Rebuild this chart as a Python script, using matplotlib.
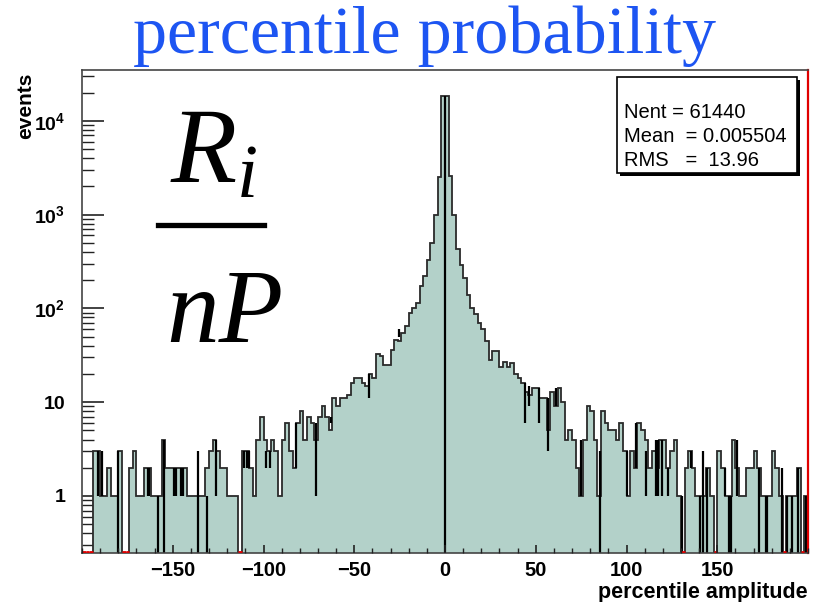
import numpy as np
import matplotlib.pyplot as plt
from matplotlib.ticker import FixedLocator, FixedFormatter, MultipleLocator, LogLocator, NullFormatter
from matplotlib.patches import Rectangle
from matplotlib.lines import Line2D

plt.rcParams['mathtext.fontset'] = 'custom'
plt.rcParams['mathtext.bf'] = 'Liberation Sans:bold'
plt.rcParams['mathtext.rm'] = 'Liberation Sans:bold'
plt.rcParams['mathtext.it'] = 'Liberation Serif:italic'

# histogram bins (2 units wide, -200 .. 200)
bin_lo, bin_hi, bin_w = -200, 200, 2
counts = [
    0, 0, 0, 3, 3, 1, 1, 2, 1, 1,
    3, 0, 0, 2, 3, 1, 1, 2, 2, 1,
    1, 1, 4, 2, 2, 2, 2, 2, 2, 1,
    1, 1, 1, 1, 2, 3, 4, 3, 2, 2,
    1, 1, 1, 0, 3, 3, 2, 1, 4, 7,
    4, 3, 4, 3, 1, 4, 6, 3, 2, 6,
    8, 4, 7, 6, 4, 7, 9, 7, 5, 11,
    9, 11, 11, 12, 16, 18, 18, 16, 15, 20,
    18, 33, 31, 25, 25, 36, 46, 45, 55, 65,
    90, 100, 115, 175, 220, 330, 494, 1000, 2500, 18400,
    18400, 2600, 1000, 430, 290, 210, 140, 100, 88, 70,
    60, 45, 28, 35, 35, 24, 27, 24, 26, 20,
    18, 16, 13, 12, 14, 14, 11, 11, 5, 13,
    9, 14, 10, 4, 5, 4, 2, 1, 4, 9,
    8, 4, 1, 8, 6, 5, 5, 4, 6, 3,
    1, 3, 2, 6, 5, 4, 2, 3, 2, 4,
    4, 2, 3, 4, 1, 0, 2, 3, 2, 1,
    1, 1, 2, 1, 0, 3, 2, 1, 1, 4,
    2, 1, 1, 2, 2, 3, 2, 1, 1, 1,
    3, 2, 1, 0, 1, 1, 1, 2, 0, 1,
]

# thin dips (empty sub-bins) seen as dark vertical lines; lo = 0 means down to the axis
dip_x = [-191.2, -188.8, -180.4, -163.8, -162.9, -158.3, -154.6, -149.4, -148.2,
         -145.5, -144.6, -136.3, -131.2, -126.3, -111.0, -109.1, -108.2, -98.4,
         -96.2, -81.9, -71.2, -62.8, -42.1, -25.6, 0.0, 44.1, 46.3, 51.8, 56.9,
         61.2, 74.7, 85.4, 100.0, 105.2, 110.6, 116.1, 117.4, 119.4, 123.0,
         130.7, 135.3, 140.3, 142.3, 144.5, 154.3, 156.5, 157.4, 161.1, 173.0,
         176.7, 177.6, 185.5, 188.6, 191.4, 194.7, 198.7]
dip_lo = [1, 1, 0, 1, 1, 0, 0, 1, 1,
          1, 1, 0, 0, 1, 2, 2, 2, 2,
          2, 2, 1, 6, 11, 50, 0, 6, 9, 6, 3,
          9, 1, 0, 1, 2, 1, 1, 1, 1, 1,
          0, 2, 0, 0, 0, 1, 0, 0, 1, 0,
          0, 0, 0, 0, 0, 0, 0]
dip_hi = [3, 3, 3, 2, 2, 1, 4, 2, 2,
          2, 2, 3, 1, 4, 3, 3, 3, 3,
          3, 6, 6, 7, 20, 60, 18400, 16, 15, 14, 11,
          14, 4, 3, 3, 6, 3, 4, 4, 4, 2,
          1, 3, 1, 3, 2, 2, 1, 1, 4, 2,
          1, 1, 2, 1, 1, 2, 1]

x_ticks = [-150, -100, -50, 0, 50, 100, 150]
y_ticks = [1, 10, 100, 1000, 10000]
y_labels = ['1', '10', r'$\mathbf{10^{2}}$', r'$\mathbf{10^{3}}$', r'$\mathbf{10^{4}}$']
stat_lines = ['Nent = 61440', 'Mean  = 0.005504', 'RMS   =  13.96']

fill_c = '#b3d1c9'
edge_c = '#2a2a2a'
W, H = 819, 602

fig = plt.figure(figsize=(W / 100, H / 100), dpi=100)
ax = fig.add_axes([82 / W, 1 - 553 / H, 726 / W, 483 / H])
ax.set_yscale('log')
ymin, ymax = 0.2467, 34800
ax.set_xlim(bin_lo, bin_hi)
ax.set_ylim(ymin, ymax)

edges = np.arange(bin_lo, bin_hi + bin_w, bin_w)
vals = np.array(counts, dtype=float)
floor = ymin * 0.5
draw = np.where(vals > 0, vals, floor)
ax.stairs(draw, edges, baseline=floor, fill=True, color=fill_c, lw=0, zorder=1)
ax.stairs(draw, edges, baseline=None, color=edge_c, lw=1.3, zorder=2)

lo = np.where(np.array(dip_lo) > 0, dip_lo, floor)
ax.vlines(dip_x, lo, dip_hi, colors='black', lw=1.6, zorder=2.2)

# red marks under empty bins
empty = vals == 0
ax.hlines(np.full(empty.sum(), ymin * 1.015), edges[:-1][empty], edges[1:][empty],
          colors='#e00000', lw=2, zorder=3)

# axes styling
for side in ['left', 'bottom', 'top']:
    ax.spines[side].set_color('#444444')
    ax.spines[side].set_linewidth(1.2)
ax.spines['right'].set_color('#e00000')
ax.spines['right'].set_linewidth(1.6)

ax.xaxis.set_major_locator(FixedLocator(x_ticks))
ax.xaxis.set_minor_locator(MultipleLocator(10))
ax.yaxis.set_major_locator(FixedLocator(y_ticks))
ax.yaxis.set_major_formatter(FixedFormatter(y_labels))
ax.yaxis.set_minor_locator(LogLocator(base=10, subs=np.arange(2, 10), numticks=20))
ax.yaxis.set_minor_formatter(NullFormatter())

ax.tick_params(axis='x', which='major', direction='in', length=6, width=1.2,
               color='#222222', pad=6, labelsize=14.5)
ax.tick_params(axis='x', which='minor', direction='in', length=3.6, width=1.0, color='#222222')
ax.tick_params(axis='y', which='major', direction='in', length=16, width=1.2,
               color='#222222', pad=12, labelsize=14)
ax.tick_params(axis='y', which='minor', direction='in', length=8.5, width=1.0, color='#222222')
for lab in ax.get_xticklabels() + ax.get_yticklabels():
    lab.set_fontfamily('Liberation Sans')
    lab.set_fontweight('bold')
ax.xaxis.set_zorder(3)
ax.yaxis.set_zorder(0.5)

# axis titles
fig.text(808 / W, 1 - 598 / H, 'percentile amplitude', ha='right', va='baseline',
         family='Liberation Sans', weight='bold', size=15.5)
fig.text(26 / W, 1 - 73 / H, 'events', ha='center', va='top', rotation=90,
         family='Liberation Sans', weight='bold', size=15)

# title
fig.text(133 / W, 1 - 53 / H, 'percentile probability', ha='left', va='baseline',
         family='Liberation Serif', size=49, color='#1d55f2')

# big fraction R_i / nP
fig.text(170 / W, 1 - 182 / H, r'$R_{i}$', ha='left', va='baseline', size=78)
fig.add_artist(Line2D([158 / W, 264 / W], [1 - 224.5 / H, 1 - 224.5 / H],
                      transform=fig.transFigure, color='black', lw=3.8))
fig.text(166 / W, 1 - 342 / H, 'nP', ha='left', va='baseline',
         family='Liberation Serif', style='italic', size=76)

# stats box with drop shadow
bx0, by0, bx1, by1 = 617, 77, 797, 173
fig.add_artist(Rectangle(((bx0 + 3) / W, 1 - (by1 + 3) / H), (bx1 - bx0) / W, (by1 - by0) / H,
                         transform=fig.transFigure, facecolor='black', edgecolor='none', zorder=5))
fig.add_artist(Rectangle((bx0 / W, 1 - by1 / H), (bx1 - bx0) / W, (by1 - by0) / H,
                         transform=fig.transFigure, facecolor='white', edgecolor='black',
                         lw=1.2, zorder=6))
for k, line in enumerate(stat_lines):
    fig.text(624 / W, 1 - (112 + 24 * k) / H, line, ha='left', va='center',
             family='Liberation Sans', size=14.5, zorder=7)

fig.savefig('out.png', dpi=100)
